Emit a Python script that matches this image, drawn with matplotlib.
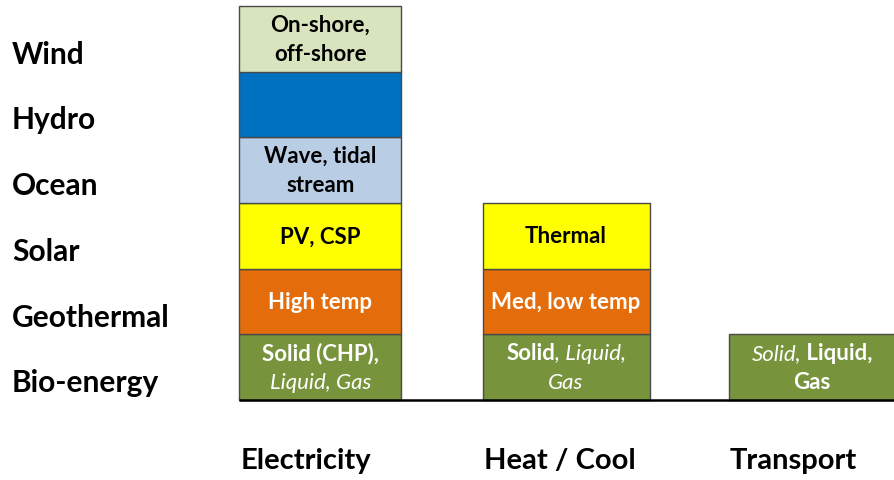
import numpy as np
import matplotlib
matplotlib.use("Agg")
from matplotlib import pyplot as plt
from matplotlib import transforms

plt.rcParams['font.family'] = ['Lato', 'DejaVu Sans']

# data
sources = ["Bio-energy", "Geothermal", "Solar", "Ocean", "Hydro", "Wind"]
uses = ["Electricity", "Heat / Cool", "Transport"]
colors = ["#77933C", "#E46C0A", "#FFFF00", "#B9CDE5", "#0070C0", "#D7E4BD"]

# number of stacked boxes per use (from the bottom)
stack_counts = [6, 3, 1]

# box labels: list of lines, each line a list of (text, style) pieces
elec_labels = [
    [[("Solid (CHP),", "b")], [("Liquid, Gas", "i")]],
    [[("High temp", "b")]],
    [[("PV, CSP", "b")]],
    [[("Wave, tidal", "b")], [("stream", "b")]],
    [],
    [[("On-shore,", "b")], [("off-shore", "b")]],
]
heat_labels = [
    [[("Solid", "b"), (", Liquid,", "i")], [("Gas", "i")]],
    [[("Med, low temp", "b")]],
    [[("Thermal", "b")]],
]
transport_labels = [
    [[("Solid,", "i"), (" Liquid,", "b")], [("Gas", "b")]],
]
box_labels = [elec_labels, heat_labels, transport_labels]
text_colors = ["white", "white", "black", "black", "white", "black"]

# layout (pixel-like x units)
col_left = [239.5, 483, 729]
col_width = [162, 167, 170]
seg_px = 65.7
base_px = 80

fig = plt.figure(figsize=(8.95, 4.81), dpi=100)
ax = fig.add_axes([0, 0, 1, 1])
ax.set_xlim(0, 895)
ax.set_ylim(-base_px / seg_px, (481 - base_px) / seg_px)
ax.axis("off")

for c, n in enumerate(stack_counts):
    vals = np.ones(n)
    bottoms = np.concatenate([[0], np.cumsum(vals)[:-1]])
    ax.bar([col_left[c]] * n, vals, width=col_width[c], bottom=bottoms,
           align="edge", color=colors[:n], edgecolor="#4a4a4a", linewidth=1.0,
           zorder=2)

ax.plot([col_left[0], 895], [0, 0], color="black", lw=1.8, zorder=3,
        solid_capstyle="butt")

fig.canvas.draw()
renderer = fig.canvas.get_renderer()
FS = 16


def draw_line(x, y, pieces, color):
    # draw mixed-style pieces centred at (x, y)
    texts = []
    for txt, st in pieces:
        t = ax.text(x, y, txt, fontsize=FS, color=color, va="center", ha="left",
                    fontweight="bold" if st == "b" else "normal",
                    fontstyle="italic" if st == "i" else "normal", zorder=4)
        texts.append(t)
    widths = [t.get_window_extent(renderer).width for t in texts]
    total = sum(widths)
    off = -total / 2
    for t, w in zip(texts, widths):
        t.set_transform(transforms.offset_copy(ax.transData, fig=fig, x=off * 72 / fig.dpi, y=0, units="points"))
        off += w


line_gap = 0.44
for c, labs in enumerate(box_labels):
    cx = col_left[c] + min(col_width[c], 166) / 2
    for k, lines in enumerate(labs):
        if not lines:
            continue
        nl = len(lines)
        for j, pieces in enumerate(lines):
            y = k + 0.5 + (nl - 1) / 2 * line_gap - j * line_gap
            draw_line(cx, y, pieces, text_colors[k])

for k, s in enumerate(sources):
    ax.text(12, k + 0.27, s, fontsize=21.5, fontweight="bold", ha="left", va="center")

for c, u in enumerate(uses):
    ax.text(col_left[c] + 1, -(461 - 401) / seg_px, u, fontsize=21, fontweight="bold",
            ha="left", va="center")

fig.savefig("out.png", dpi=100)
